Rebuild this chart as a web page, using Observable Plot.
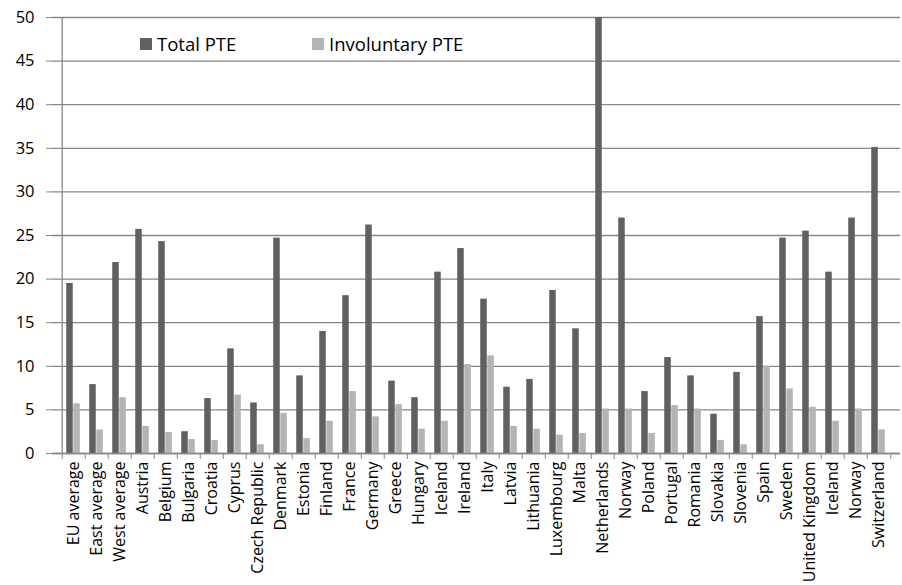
<!DOCTYPE html>
<html>
<head>
<meta charset="utf-8">
<script src="https://cdn.jsdelivr.net/npm/d3@7"></script>
<script src="https://cdn.jsdelivr.net/npm/@observablehq/plot@0.6"></script>
<style>
  body { margin: 0; background: #fff; font-family: "Open Sans", sans-serif; }
  #wrap { position: relative; width: 902px; height: 585px; overflow: hidden; }
  .legend { position: absolute; top: 31px; font-size: 18.5px; line-height: 26px; color: #000; display: flex; align-items: center; z-index: 2; }
  .sw { display: inline-block; width: 12px; height: 12px; margin-right: 5px; }
</style>
</head>
<body>
<div id="wrap">
  <div class="legend" style="left:140px"><span class="sw" style="background:#606060"></span>Total PTE</div>
  <div class="legend" style="left:312px"><span class="sw" style="background:#b4b4b4"></span>Involuntary PTE</div>
</div>
<script>
const categories = ["EU average","East average","West average","Austria","Belgium","Bulgaria","Croatia","Cyprus","Czech Republic","Denmark","Estonia","Finland","France","Germany","Greece","Hungary","Iceland","Ireland","Italy","Latvia","Lithuania","Luxembourg","Malta","Netherlands","Norway","Poland","Portugal","Romania","Slovakia","Slovenia","Spain","Sweden","United Kingdom","Iceland","Norway","Switzerland"];
const totalPTE = [19.5,7.9,21.9,25.7,24.3,2.5,6.3,12.0,5.8,24.7,8.9,14.0,18.1,26.2,8.3,6.4,20.8,23.5,17.7,7.6,8.5,18.7,14.3,50,27.0,7.1,11.0,8.9,4.5,9.3,15.7,24.7,25.5,20.8,27.0,35.1];
const involuntaryPTE = [5.7,2.7,6.4,3.1,2.4,1.6,1.5,6.7,1.0,4.6,1.7,3.7,7.1,4.2,5.6,2.8,3.7,10.2,11.2,3.1,2.8,2.1,2.3,5.1,5.1,2.3,5.5,5.1,1.5,1.0,10.0,7.4,5.3,3.7,5.1,2.7];
const yTicks = [0,5,10,15,20,25,30,35,40,45,50];

const W = 902, H = 585, ML = 52, MR = 2, MT = 17, MB = 132;
const idx = categories.map((_, i) => i);
const bw = (W - ML - MR) / categories.length;
const gray = "#878787";

const rows = idx.map(i => ({i, total: totalPTE[i], inv: involuntaryPTE[i]}));

const chart = Plot.plot({
  width: W, height: H,
  marginLeft: ML, marginRight: MR, marginTop: MT, marginBottom: MB,
  style: {fontFamily: "'Open Sans', sans-serif", fontSize: "15px", color: "#000", background: "transparent"},
  x: {type: "band", domain: idx, padding: 0, label: null},
  y: {domain: [0, 50], label: null},
  marks: [
    Plot.gridY(yTicks, {stroke: gray, strokeOpacity: 1, strokeWidth: 1.3}),
    Plot.barY(rows, {x: "i", y: "total", fill: "#606060", insetLeft: bw*0.18, insetRight: bw*0.52}),
    Plot.barY(rows, {x: "i", y: "inv", fill: "#b4b4b4", insetLeft: bw*0.48, insetRight: bw*0.22}),
    Plot.ruleY([0], {stroke: gray, strokeWidth: 1.3}),
    Plot.ruleX([0], {x: d => d, dx: -bw/2, stroke: gray, strokeWidth: 1.3}),
    Plot.axisY(yTicks, {tickSize: 6, tickPadding: 12, stroke: gray, fontSize: 16.5, label: null}),
    Plot.axisX(idx, {tickSize: 6, dx: -bw/2, stroke: gray, tickFormat: () => "", label: null}),
    Plot.axisX([idx[idx.length-1]], {tickSize: 6, dx: bw/2, stroke: gray, tickFormat: () => "", label: null}),
    Plot.axisX(idx, {tickSize: 0, tickPadding: 8, tickRotate: -90, fontSize: 16, tickFormat: i => categories[i], label: null})
  ]
});
document.getElementById("wrap").prepend(chart);
chart.style.position = "absolute";
chart.style.left = "0";
chart.style.top = "0";
</script>
</body>
</html>
